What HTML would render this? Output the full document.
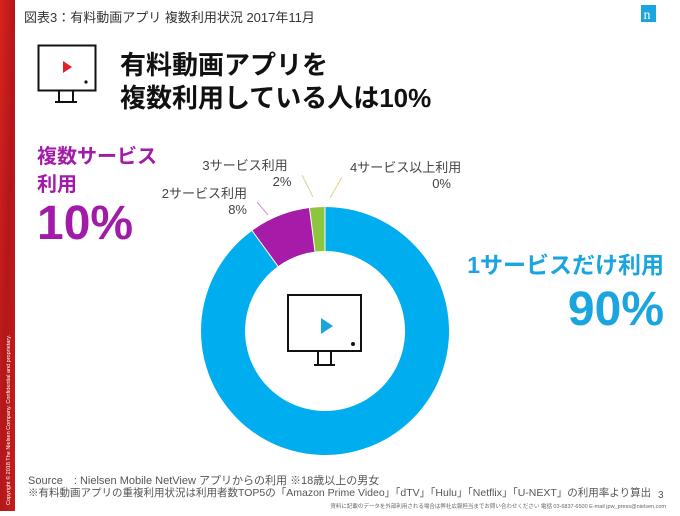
<!DOCTYPE html>
<html><head><meta charset="utf-8"><style>
body{margin:0;width:680px;height:511px;overflow:hidden;background:#fff;font-family:"Liberation Sans","Noto Sans CJK JP",sans-serif;}
</style></head><body>
<svg width="680" height="511" viewBox="0 0 680 511" xmlns="http://www.w3.org/2000/svg" font-family="Liberation Sans, Noto Sans CJK JP, sans-serif">
<defs><linearGradient id="rg" x1="0" y1="0" x2="1" y2="1"><stop offset="0" stop-color="#d8231f"/><stop offset="0.5" stop-color="#b3171a"/><stop offset="1" stop-color="#c41e1e"/></linearGradient></defs>
<rect x="0" y="0" width="15" height="511" fill="url(#rg)"/>
<text transform="translate(10,505) rotate(-90)" font-size="5.5" fill="#fff">Copyright © 2018 The Nielsen Company. Confidential and proprietary.</text>
<text x="24" y="22" font-size="13" fill="#333">図表3：有料動画アプリ  複数利用状況  2017年11月</text>
<rect x="641" y="5" width="15" height="17" fill="#1aa5e0"/>
<text x="643.5" y="19" font-size="14" fill="#fff" font-family="Liberation Serif, serif">n</text>
<rect x="38.5" y="45.5" width="57" height="45" fill="none" stroke="#111" stroke-width="2"/>
<polygon points="63,61 63,73 72,67" fill="#e21f26"/>
<circle cx="86" cy="82" r="1.6" fill="#111"/>
<path d="M59,91 V102 M73,91 V102 M55,102 H77" stroke="#111" stroke-width="2" fill="none"/>
<text x="120" y="74" font-size="26" font-weight="bold" fill="#111">有料動画アプリを</text>
<text x="120" y="107" font-size="26" font-weight="bold" fill="#111">複数利用している人は10%</text>
<text x="37" y="163" font-size="20" font-weight="bold" fill="#a21ba8">複数サービス</text>
<text x="37" y="191" font-size="20" font-weight="bold" fill="#a21ba8">利用</text>
<text x="37" y="239" font-size="48" font-weight="bold" fill="#a21ba8">10%</text>
<path d="M325,207 A124,124 0 1 1 252.1,230.7 L278,266.3 A80,80 0 1 0 325,251 Z" fill="#00aeef"/>
<path d="M252.1,230.7 A124,124 0 0 1 309.5,208 L315,251.6 A80,80 0 0 0 278,266.3 Z" fill="#a61ca9"/>
<path d="M309.5,208 A124,124 0 0 1 325,207 L325,251 A80,80 0 0 0 315,251.6 Z" fill="#8cc63f"/>
<line x1="252.1" y1="230.7" x2="278" y2="266.3" stroke="#fff" stroke-width="1"/>
<line x1="309.5" y1="208" x2="315" y2="251.6" stroke="#fff" stroke-width="1"/>
<line x1="325" y1="207" x2="325" y2="251" stroke="#fff" stroke-width="1"/>
<line x1="257" y1="202" x2="268" y2="215" stroke="#c59bd0" stroke-width="1"/>
<line x1="302" y1="175" x2="313" y2="197" stroke="#c4dd9b" stroke-width="1"/>
<line x1="330" y1="198" x2="342" y2="177" stroke="#e6cf88" stroke-width="1"/>
<text x="247" y="198" font-size="13" fill="#444" text-anchor="end">2サービス利用</text>
<text x="247" y="214" font-size="13" fill="#444" text-anchor="end">8%</text>
<text x="245" y="170" font-size="13" fill="#444" text-anchor="middle">3サービス利用</text>
<text x="282" y="186" font-size="13" fill="#444" text-anchor="middle">2%</text>
<text x="350" y="172" font-size="13" fill="#444">4サービス以上利用</text>
<text x="451" y="188" font-size="13" fill="#444" text-anchor="end">0%</text>
<text x="664" y="273" font-size="23" font-weight="bold" fill="#1aa5e0" text-anchor="end">1サービスだけ利用</text>
<text x="664" y="325" font-size="48" font-weight="bold" fill="#1aa5e0" text-anchor="end">90%</text>
<rect x="288" y="295" width="73" height="56" fill="#fff" stroke="#111" stroke-width="2"/>
<polygon points="321,318 321,334 333,326" fill="#1aa5e0"/>
<circle cx="353" cy="344" r="2" fill="#111"/>
<path d="M318,352 V365 M331,352 V365 M314,365 H335" stroke="#111" stroke-width="2" fill="none"/>
<text x="28" y="484" font-size="11" fill="#555">Source　: Nielsen Mobile NetView  アプリからの利用  ※18歳以上の男女</text>
<text x="28" y="496" font-size="10.5" fill="#555">※有料動画アプリの重複利用状況は利用者数TOP5の「Amazon Prime Video」「dTV」「Hulu」「Netflix」「U-NEXT」の利用率より算出</text>
<text x="658" y="498" font-size="10" fill="#555">3</text>
<text x="666" y="508" font-size="5.5" fill="#666" text-anchor="end">資料に記載のデータを外部利用される場合は弊社広報担当までお問い合わせください 電話 03-6837-6500 E-mail jpw_press@nielsen.com</text>
</svg>
</body></html>
